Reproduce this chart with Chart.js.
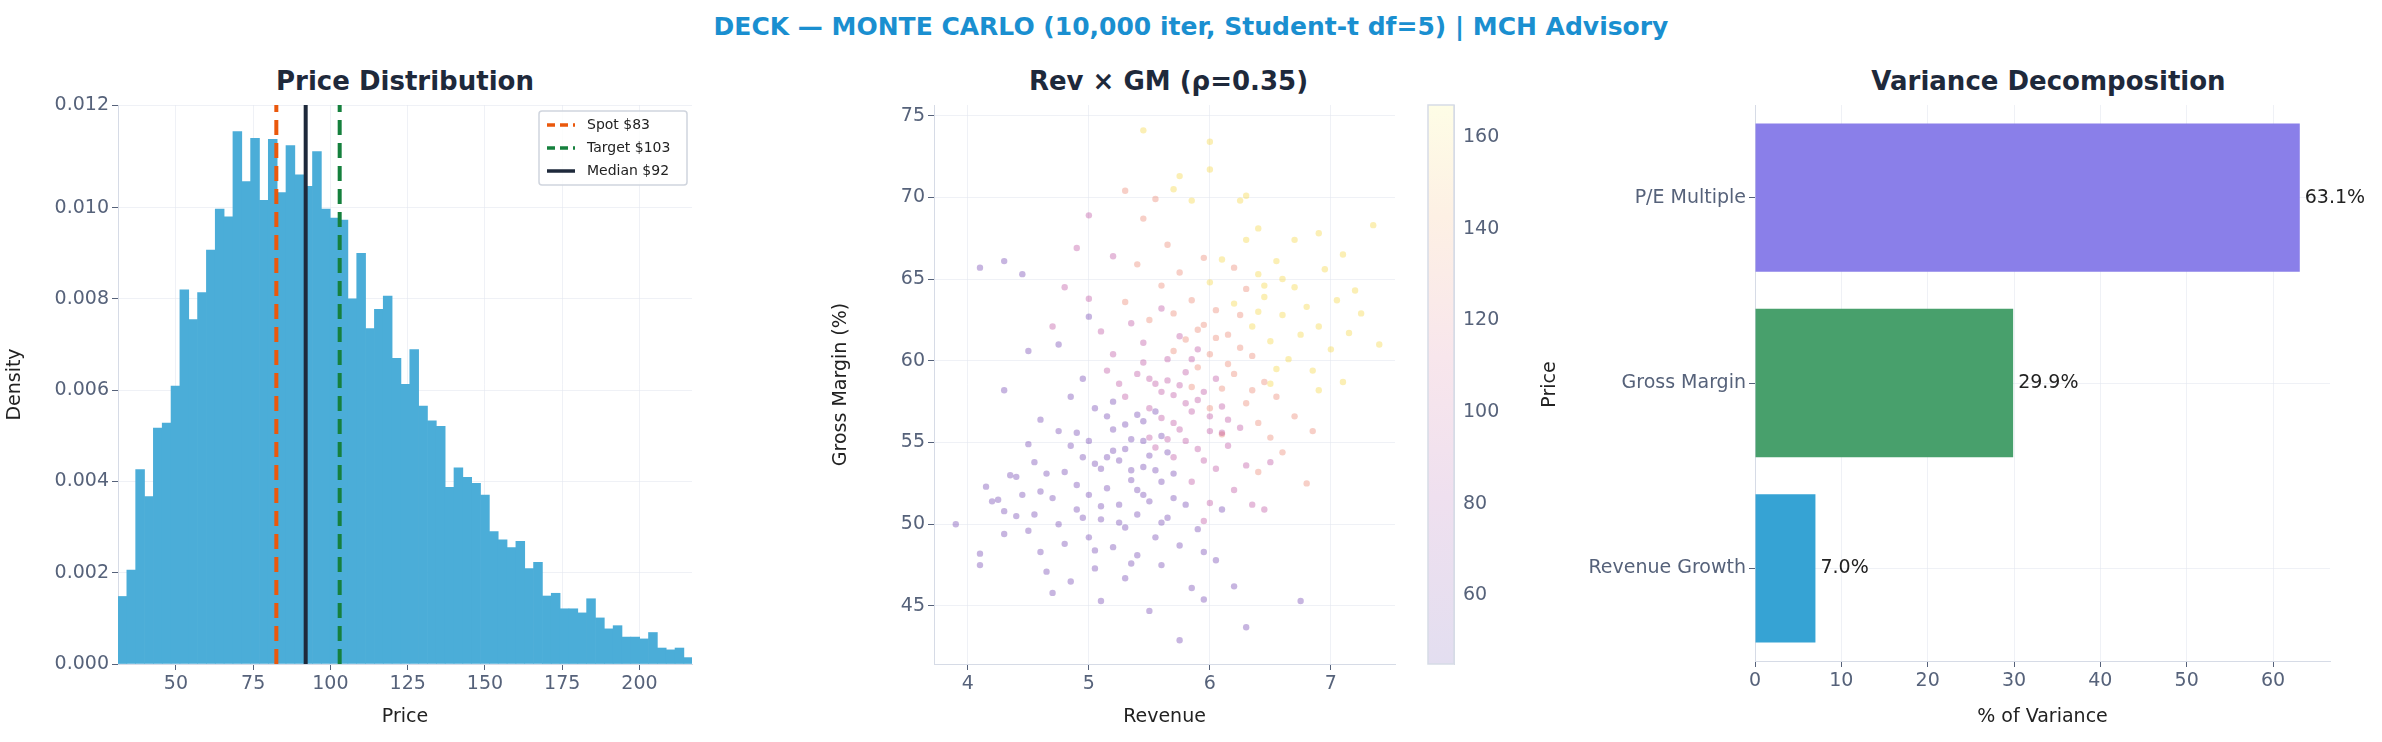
<!DOCTYPE html>
<html><head><meta charset="utf-8">
<script src="https://cdn.jsdelivr.net/npm/chart.js@4.4.1/dist/chart.umd.min.js"></script>
<style>
body{margin:0;width:2382px;height:742px;background:#fff;position:relative;overflow:hidden;font-family:"DejaVu Sans",sans-serif}
canvas{position:absolute;top:0}
.t{position:absolute;font-weight:bold;text-align:center;white-space:nowrap}
</style></head><body>
<div class="t" style="left:0;width:2382px;top:12px;font-size:25px;color:#1a8fd0">DECK — MONTE CARLO (10,000 iter, Student-t df=5) | MCH Advisory</div>
<div class="t" style="left:118px;width:574px;top:66px;font-size:26px;color:#1e293b">Price Distribution</div>
<div class="t" style="left:938px;width:461px;top:66px;font-size:26px;color:#1e293b">Rev × GM (ρ=0.35)</div>
<div class="t" style="left:1761px;width:575px;top:66px;font-size:26px;color:#1e293b">Variance Decomposition</div>
<div style="position:absolute;left:0;width:710px;height:742px"><canvas id="c1"></canvas></div>
<div style="position:absolute;left:826px;width:580px;height:742px"><canvas id="c2"></canvas></div>
<div style="position:absolute;left:1420px;width:140px;height:742px"><canvas id="c3"></canvas></div>
<div style="position:absolute;left:1554px;width:822px;height:742px"><canvas id="c4"></canvas></div>
<script>
// ---------- data ----------
const histDensity=[1.48,2.06,4.26,3.67,5.17,5.28,6.09,8.2,7.55,8.14,9.07,9.97,9.8,11.67,10.57,11.52,10.16,11.5,10.33,11.36,10.72,10.47,11.23,9.97,9.77,9.73,8.0,9.0,7.35,7.77,8.06,6.7,6.13,6.89,5.65,5.33,5.21,3.87,4.3,4.09,3.96,3.7,2.9,2.72,2.55,2.69,2.09,2.23,1.49,1.55,1.21,1.21,1.12,1.43,1.01,0.77,0.84,0.59,0.59,0.55,0.69,0.35,0.31,0.35,0.14]; // x 1e-3
const binStart=31.27, binWidth=2.861;
const spotPrice=82.5, targetPrice=103, medianPrice=92;
const priceTicks=[50,75,100,125,150,175,200];
const revTicks=[4,5,6,7];
const gmTicks=[45,50,55,60,65,70,75];
const scatterLow=[[3.9,50],[4.1,47.5],[4.1,48.2],[4.15,52.3],[4.2,51.4],[4.25,51.5],[4.3,50.8],[4.3,49.4],[4.35,53],[4.4,52.9],[4.4,50.5],[4.45,51.8],[4.5,54.9],[4.5,49.6],[4.55,53.8],[4.6,52],[4.6,48.3],[4.65,47.1],[4.7,51.6],[4.7,45.8],[4.75,55.7],[4.75,50],[4.8,53.2],[4.8,48.8],[4.85,46.5],[4.9,52.4],[4.9,50.9],[4.95,54.1],[5.0,49.2],[5.0,51.8],[5.0,55.1],[5.05,47.3],[5.1,53.4],[5.1,50.3],[5.1,45.3],[5.15,52.2],[5.2,48.6],[5.2,55.8],[5.25,51.2],[5.25,53.9],[5.3,46.7],[5.3,49.8],[5.35,52.7],[5.35,55.2],[5.4,50.6],[5.4,48.1],[5.45,53.5],[5.5,51.4],[5.5,44.7],[5.55,49.2],[5.6,52.6],[5.6,47.5],[5.65,50.4],[5.7,53.1],[5.75,48.7],[5.8,51.2],[5.85,46.1],[5.9,49.7],[5.75,42.9],[5.95,45.4],[6.05,47.8],[6.1,50.9],[6.2,46.2],[4.6,56.4],[4.85,57.8],[5.05,57.1],[4.3,58.2],[4.5,60.6],[4.75,61],[5.2,57.5],[5.45,56.3],[5.3,54.6],[5.6,55.4],[5.15,56.6],[4.95,58.9],[5.0,62.7],[4.3,66.1],[4.1,65.7],[4.45,65.3],[6.75,45.3],[6.3,43.7],[5.5,54.2],[5.4,56.7],[5.2,54.5],[5.3,56.1],[5.45,55.1],[5.55,56.9],[5.35,53.3],[5.15,54.1],[5.65,54.4],[5.05,53.7],[4.9,55.6],[5.25,50.1],[5.45,51.8],[5.6,50.1],[5.1,51.1],[4.95,50.4],[5.4,52.1],[5.7,51.6],[5.55,53.3],[4.65,53.1],[4.85,54.8],[5.95,48.3],[5.35,47.6],[5.05,48.4],[4.55,50.6]];
const scatterMid=[[5.3,57.8],[5.4,59.2],[5.5,57.1],[5.55,58.6],[5.6,56.5],[5.65,60.1],[5.7,57.9],[5.75,55.8],[5.8,59.3],[5.85,56.9],[5.9,54.6],[5.95,58.1],[6.0,55.7],[6.05,53.4],[6.1,57.2],[6.15,54.8],[6.2,52.1],[6.25,55.9],[5.2,60.4],[5.1,61.8],[5.35,62.3],[5.45,61.1],[5.6,63.2],[5.0,63.8],[4.8,64.5],[4.7,62.1],[5.15,59.4],[5.25,58.6],[5.5,55.3],[5.7,54.1],[5.85,52.6],[6.0,51.3],[5.95,50.2],[6.3,53.6],[6.35,51.2],[6.45,50.9],[6.5,53.8],[5.65,58.8],[5.75,61.5],[5.9,60.7],[5.45,59.9],[5.55,54.7],[6.1,55.6],[5.8,57.4],[6.05,58.9],[4.9,66.9],[5.2,66.4],[5.0,68.9],[5.6,58.1],[5.7,56.2],[5.8,55.1],[5.75,58.5],[5.9,57.6],[6.0,56.6],[5.65,55.2],[5.85,60.1],[6.15,56.4],[5.5,58.9],[5.95,53.9]];
const scatterHigh=[[5.5,62.5],[5.6,64.6],[5.7,62.9],[5.75,65.4],[5.8,61.3],[5.85,63.7],[5.9,59.6],[5.95,62.2],[6.0,60.4],[6.05,63.1],[6.1,58.3],[6.15,61.6],[6.2,59.2],[6.25,62.8],[6.3,57.4],[6.35,60.3],[6.4,56.2],[6.45,58.7],[6.5,55.3],[6.55,57.8],[6.6,54.4],[6.7,56.6],[6.3,64.4],[6.2,65.7],[5.95,66.3],[5.65,67.1],[5.4,65.9],[5.3,63.6],[6.0,57.1],[6.1,55.5],[5.85,58.4],[6.4,53.2],[6.85,55.7],[5.55,69.9],[5.3,70.4],[5.45,68.7],[6.8,52.5],[6.05,61.4],[6.15,59.8],[5.9,61.9],[6.25,60.8],[5.7,60.6],[6.35,58.2]];
const scatterTop=[[6.0,64.8],[6.1,66.2],[6.2,63.5],[6.3,67.4],[6.35,62.1],[6.4,65.3],[6.45,63.9],[6.5,61.2],[6.55,66.1],[6.6,62.8],[6.65,60.1],[6.7,64.5],[6.75,61.6],[6.8,63.3],[6.85,59.4],[6.9,62.1],[6.95,65.6],[7.0,60.7],[7.05,63.7],[7.15,61.7],[7.2,64.3],[7.35,68.3],[7.25,62.9],[7.4,61],[6.9,58.2],[7.1,58.7],[6.5,58.6],[6.7,67.4],[6.25,69.8],[6.0,71.7],[6.0,73.4],[5.45,74.1],[5.7,70.5],[5.75,71.3],[6.3,70.1],[6.9,67.8],[7.1,66.5],[6.4,68.1],[5.85,69.8],[6.55,59.5],[6.45,64.6],[6.6,65.0],[6.4,63.0]];
const colorbarRange=[45,167];
const colorbarTicks=[60,80,100,120,140,160];
const varLabels=['P/E Multiple','Gross Margin','Revenue Growth'];
const varValues=[63.1,29.9,7.0];
const varTicks=[0,10,20,30,40,50,60];

// ---------- styling ----------
const tickFont={family:'DejaVu Sans',size:19};
const tickColor='#56627a';
const titleFont={family:'DejaVu Sans',size:19};
const gridC='rgba(225,230,238,0.55)';
const borderC='#d6dbe6';
function fixW(w){return s=>{s.width=w;};}
function fixH(h){return s=>{s.height=h;};}
function setTicks(arr){return s=>{s.ticks=arr.map(v=>({value:v}));};}
const grid={color:gridC,tickColor:'#56627a',tickLength:6,offset:false};
const baseOpts={responsive:false,animation:false,plugins:{legend:{display:false},tooltip:{enabled:false}}};
function mk(id,w,cfg){const c=document.getElementById(id);c.width=w;c.height=742;c.style.width=w+'px';c.style.height='742px';return new Chart(c,cfg);}

// ---------- Panel 1 ----------
const histData=histDensity.map((d,i)=>({x:binStart+binWidth*(i+0.5),y:d/1000}));
const yTop=0.01225;
function vline(x,color,dash){return {type:'line',data:[{x:x,y:0},{x:x,y:yTop}],borderColor:color,borderWidth:4,borderDash:dash,pointRadius:0,fill:false};}
const legendPlugin={id:'lg',afterDraw(ch){const c=ch.ctx;const x0=539,y0=111,w=148,h=74;c.save();c.fillStyle='rgba(255,255,255,0.85)';c.strokeStyle='#d0d5de';c.lineWidth=1.5;c.beginPath();c.roundRect(x0,y0,w,h,3);c.fill();c.stroke();
const items=[['Spot $83','#ea580c',[8,5]],['Target $103','#15803d',[8,5]],['Median $92','#1e293b',[]]];
c.font='14px DejaVu Sans';c.textBaseline='middle';items.forEach((it,i)=>{const yy=y0+14+i*23;c.strokeStyle=it[1];c.lineWidth=3.5;c.setLineDash(it[2]);c.beginPath();c.moveTo(x0+8,yy);c.lineTo(x0+36,yy);c.stroke();c.setLineDash([]);c.fillStyle='#222';c.fillText(it[0],x0+48,yy);});c.restore();}};
mk('c1',710,{type:'bar',data:{datasets:[
 vline(spotPrice,'#ea580c',[15,8]),vline(targetPrice,'#15803d',[15,8]),vline(medianPrice,'#1e293b',[]),
 {type:'bar',data:histData,backgroundColor:'#4badd8',barPercentage:1,categoryPercentage:1,borderWidth:0}]},
 options:{...baseOpts,layout:{padding:{top:105,right:18,bottom:10,left:0}},
 scales:{x:{type:'linear',offset:false,min:binStart,max:217.0,z:1,afterFit:fixH(68),afterBuildTicks:setTicks(priceTicks),
   ticks:{font:tickFont,color:tickColor},grid:grid,border:{color:borderC},title:{display:true,text:'Price',font:titleFont,color:'#222'}},
  y:{min:0,max:yTop,z:1,afterFit:fixW(118),ticks:{stepSize:0.002,font:tickFont,color:tickColor,callback:v=>v.toFixed(3)},grid:grid,border:{color:borderC},title:{display:true,text:'Density',font:titleFont,color:'#222'}}}},
 plugins:[legendPlugin]});

// ---------- Panel 2 ----------
const pt=a=>a.map(p=>({x:p[0],y:p[1]}));
function sds(d,c){return {data:pt(d),backgroundColor:c,borderColor:c,borderWidth:0,pointRadius:3.2};}
mk('c2',580,{type:'scatter',data:{datasets:[
 sds(scatterLow,'rgba(80,25,160,0.32)'),sds(scatterMid,'rgba(175,45,140,0.32)'),sds(scatterHigh,'rgba(232,115,90,0.34)'),sds(scatterTop,'rgba(245,215,70,0.4)')]},
 options:{...baseOpts,layout:{padding:{top:105,right:11,bottom:10,left:0}},
 scales:{x:{type:'linear',min:3.72,max:7.53,afterFit:fixH(68),afterBuildTicks:setTicks(revTicks),ticks:{font:tickFont,color:tickColor},grid:grid,border:{color:borderC},title:{display:true,text:'Revenue',font:titleFont,color:'#222'}},
  y:{min:41.45,max:75.65,afterFit:fixW(108),afterBuildTicks:setTicks(gmTicks),ticks:{font:tickFont,color:tickColor},grid:grid,border:{color:borderC},title:{display:true,text:'Gross Margin (%)',font:titleFont,color:'#222'}}}}});

// ---------- Colorbar ----------
const cbTitle={id:'cbt',afterDraw(ch){const c=ch.ctx,ca=ch.chartArea;c.save();c.strokeStyle=borderC;c.lineWidth=1.5;c.strokeRect(ca.left,ca.top,ca.right-ca.left,ca.bottom-ca.top);
c.translate(ca.right+96,(ca.top+ca.bottom)/2);c.rotate(-Math.PI/2);c.font='19px DejaVu Sans';c.fillStyle='#222';c.textAlign='center';c.textBaseline='middle';c.fillText('Price',0,0);c.restore();}};
mk('c3',140,{type:'bar',data:{labels:['c'],datasets:[{data:[colorbarRange],barPercentage:1,categoryPercentage:1,borderWidth:0,
 backgroundColor:ctx=>{const ca=ctx.chart.chartArea;if(!ca)return '#eee';const g=ctx.chart.ctx.createLinearGradient(0,ca.bottom,0,ca.top);
 g.addColorStop(0,'#e3def0');g.addColorStop(0.3,'#efe0ef');g.addColorStop(0.55,'#f8e6ec');g.addColorStop(0.8,'#fdf0e4');g.addColorStop(1,'#fefde6');return g;}}]},
 options:{...baseOpts,layout:{padding:{top:105,right:0,bottom:78,left:8}},
 scales:{x:{display:false},y:{position:'right',min:colorbarRange[0],max:colorbarRange[1],afterFit:fixW(106),afterBuildTicks:setTicks(colorbarTicks),
  ticks:{font:tickFont,color:tickColor},grid:{display:false,tickLength:6},border:{color:borderC}}}},
 plugins:[cbTitle]});

// ---------- Panel 3 ----------
const labPlugin={id:'lb',afterDatasetsDraw(ch){const c=ch.ctx;const m=ch.getDatasetMeta(0);c.save();c.font='19px DejaVu Sans';c.fillStyle='#222';c.textBaseline='middle';
 m.data.forEach((b,i)=>{c.fillText(varValues[i].toFixed(1)+'%',b.x+5,b.y);});c.restore();}};
mk('c4',822,{type:'bar',data:{labels:varLabels,datasets:[{data:varValues,backgroundColor:['#8a7fe9','#48a06c','#36a3d4'],barPercentage:0.8,categoryPercentage:1,borderWidth:0}]},
 options:{...baseOpts,indexAxis:'y',layout:{padding:{top:105,right:46,bottom:10,left:0}},
 scales:{x:{min:0,max:66.6,z:1,afterFit:fixH(71),afterBuildTicks:setTicks(varTicks),ticks:{font:tickFont,color:tickColor},grid:grid,border:{color:borderC},title:{display:true,text:'% of Variance',font:titleFont,color:'#222'}},
  y:{afterFit:fixW(201),ticks:{font:tickFont,color:tickColor},grid:grid,border:{color:borderC}}}},
 plugins:[labPlugin]});
</script></body></html>
